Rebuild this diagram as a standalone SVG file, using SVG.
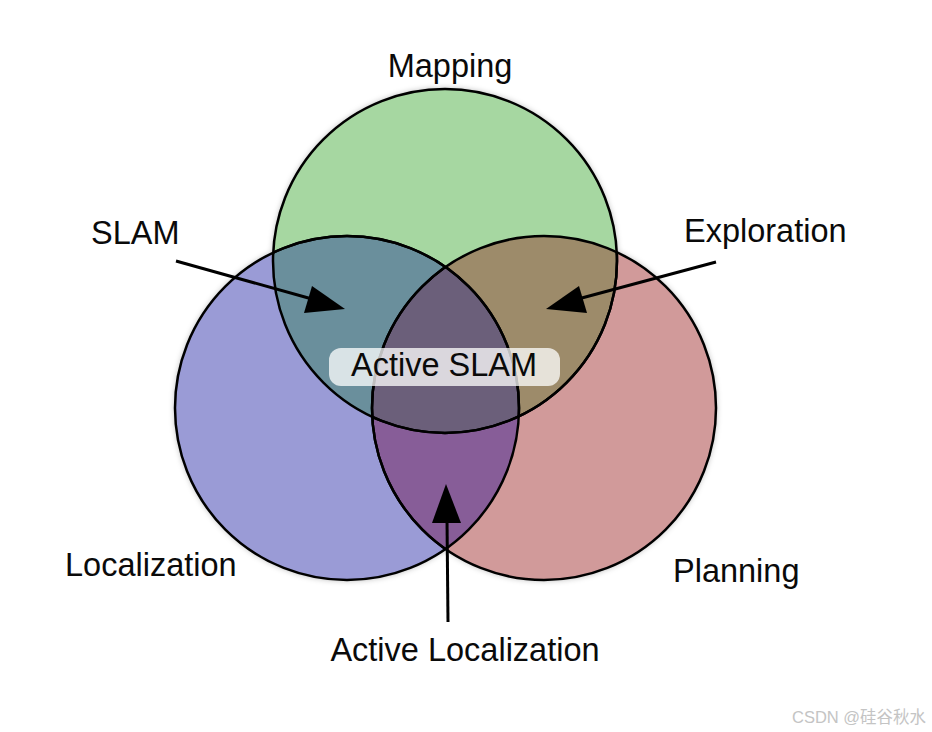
<svg xmlns="http://www.w3.org/2000/svg" width="932" height="732" viewBox="0 0 932 732">
<style>
.lbl{font-family:"Liberation Sans",Arial,sans-serif;font-size:32.5px;fill:#0a0a0a}
.wm{font-family:"Liberation Sans","Noto Sans CJK SC",sans-serif;font-size:16.5px;fill:#c4c4c4}
.edge{stroke:#000;stroke-width:3;fill:none}
.ring{fill:none;stroke:#000;stroke-width:2.5}
</style>
<defs>
<filter id="sh" x="-10%" y="-10%" width="120%" height="120%">
<feDropShadow dx="0" dy="0" stdDeviation="3" flood-color="#000" flood-opacity="0.35"/>
</filter>
<clipPath id="cG"><circle cx="445" cy="261" r="172"/></clipPath>
<clipPath id="cB"><circle cx="347" cy="408" r="172"/></clipPath>
<clipPath id="cR"><circle cx="544" cy="408" r="172"/></clipPath>
</defs>
<rect width="932" height="732" fill="#fff"/>
<g id="circles-shadow" filter="url(#sh)">
<circle cx="445" cy="261" r="172" fill="#a6d7a1"/>
<circle cx="347" cy="408" r="172" fill="#9a9bd6"/>
<circle cx="544" cy="408" r="172" fill="#d19a9a"/>
</g>
<g id="mapping-node">
<circle cx="445" cy="261" r="172" fill="#a6d7a1"/>
</g>
<g id="localization-node">
<circle cx="347" cy="408" r="172" fill="#9a9bd6"/>
</g>
<g id="planning-node">
<circle cx="544" cy="408" r="172" fill="#d19a9a"/>
</g>
<g id="slam-region">
<circle cx="347" cy="408" r="172" fill="#6a8f9c" clip-path="url(#cG)"/>
</g>
<g id="exploration-region">
<circle cx="544" cy="408" r="172" fill="#9d8b6a" clip-path="url(#cG)"/>
</g>
<g id="active-localization-region">
<circle cx="544" cy="408" r="172" fill="#875d98" clip-path="url(#cB)"/>
</g>
<g id="active-slam-region" clip-path="url(#cG)">
<circle cx="544" cy="408" r="172" fill="#6b5f7a" clip-path="url(#cB)"/>
</g>
<g id="outlines">
<circle class="ring" cx="445" cy="261" r="172"/>
<circle class="ring" cx="347" cy="408" r="172"/>
<circle class="ring" cx="544" cy="408" r="172"/>
<circle class="ring" cx="347" cy="408" r="172" stroke="#14144a" clip-path="url(#cG)"/>
<circle class="ring" cx="544" cy="408" r="172" stroke="#14144a" clip-path="url(#cB)"/>
<circle class="ring" cx="445" cy="261" r="172" stroke="#4a1010" clip-path="url(#cR)"/>
</g>
<g id="active-slam-label">
<rect x="329" y="348" width="231" height="38" rx="12" fill="#fff" fill-opacity="0.75"/>
<text class="lbl" x="444" y="376" text-anchor="middle">Active SLAM</text>
</g>
<g id="connectors">
<line class="edge" x1="176" y1="261" x2="312" y2="299"/>
<path d="M345,309 L312,286 L304,313 z" fill="#000"/>
<line class="edge" x1="716" y1="262" x2="578" y2="299"/>
<path d="M546,309 L579,286 L587,313 z" fill="#000"/>
<line class="edge" x1="448" y1="622" x2="447" y2="520"/>
<path d="M446,484 L432,523 L461,523 z" fill="#000"/>
</g>
<g id="labels">
<text class="lbl" x="450" y="77" text-anchor="middle">Mapping</text>
<text class="lbl" x="91" y="244">SLAM</text>
<text class="lbl" x="684" y="242">Exploration</text>
<text class="lbl" x="65" y="576">Localization</text>
<text class="lbl" x="673" y="582">Planning</text>
<text class="lbl" x="465" y="661" text-anchor="middle">Active Localization</text>
</g>
<text class="wm" x="792" y="723">CSDN @硅谷秋水</text>
</svg>
